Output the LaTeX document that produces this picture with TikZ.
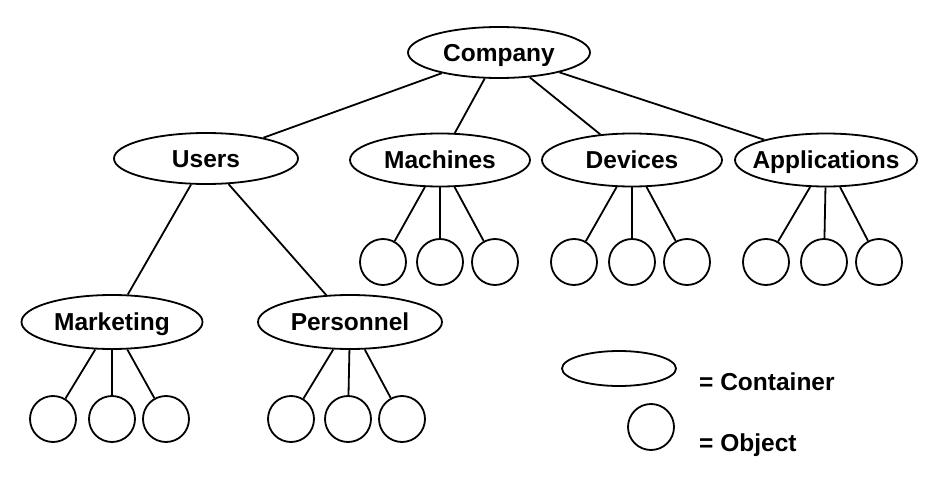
\documentclass[tikz,border=0pt]{standalone}
\usepackage{fontspec}
\setmainfont{Liberation Sans}
\usetikzlibrary{shapes.geometric}
\begin{document}
\begin{tikzpicture}[x=1pt,y=-1pt,
  every node/.style={font=\fontsize{24.5pt}{28pt}\selectfont\bfseries},
  container/.style={ellipse,draw,line width=1.8pt,inner sep=0pt,
    minimum width=182pt,minimum height=53pt,text height=17.5pt,text depth=0pt},
  object/.style={circle,draw,line width=1.8pt,inner sep=0pt,minimum size=46pt},
  link/.style={line width=1.8pt},
  legendtext/.style={anchor=west,inner sep=0pt,text height=17.5pt,text depth=0pt}]
\useasboundingbox (0,0) rectangle (940,484);
% containers
\node[container,minimum height=51pt] (company) at (499,52.5) {\makebox[0pt]{Company}};
\node[container,minimum width=184pt,minimum height=51pt] (users) at (206,158.5) {\makebox[0pt]{Users}};
\node[container,minimum width=180pt] (machines) at (440,160) {\makebox[0pt]{Machines}};
\node[container,minimum width=180pt] (devices) at (632,160) {\makebox[0pt]{Devices}};
\node[container] (apps) at (826,160) {\makebox[0pt]{Applications}};
\node[container,minimum width=181pt,minimum height=54pt] (marketing) at (112,322) {\makebox[0pt]{Marketing}};
\node[container,minimum width=184pt,minimum height=54pt] (personnel) at (350,322) {\makebox[0pt]{Personnel}};
% objects
\node[object] (m1) at (383,262) {};
\node[object] (m2) at (440,262) {};
\node[object] (m3) at (495,262) {};
\node[object] (d1) at (574,262) {};
\node[object] (d2) at (632,262) {};
\node[object] (d3) at (687,262) {};
\node[object] (a1) at (766,262) {};
\node[object] (a2) at (824,262) {};
\node[object] (a3) at (879,262) {};
\node[object] (k1) at (53,419) {};
\node[object] (k2) at (112,419) {};
\node[object] (k3) at (166,419) {};
\node[object] (p1) at (291,419) {};
\node[object] (p2) at (348,419) {};
\node[object] (p3) at (402,419) {};
% connectors
\draw[link] (company) -- (users);
\draw[link] (company) -- (machines);
\draw[link] (company) -- (devices);
\draw[link] (company) -- (apps);
\draw[link] (users) -- (marketing);
\draw[link] (users) -- (personnel);
\foreach \c in {m1,m2,m3} \draw[link] (machines) -- (\c);
\foreach \c in {d1,d2,d3} \draw[link] (devices) -- (\c);
\foreach \c in {a1,a2,a3} \draw[link] (apps) -- (\c);
\foreach \c in {k1,k2,k3} \draw[link] (marketing) -- (\c);
\foreach \c in {p1,p2,p3} \draw[link] (personnel) -- (\c);
% legend
\node[ellipse,draw,line width=1.8pt,inner sep=0pt,minimum width=114pt,minimum height=35pt] (legcont) at (619,368.5) {};
\node[object] (legobj) at (651,427) {};
\node[legendtext] (conttext) at (699,382) {= Container};
\node[legendtext] (objtext) at (699,442.5) {= Object};
\end{tikzpicture}
\end{document}
